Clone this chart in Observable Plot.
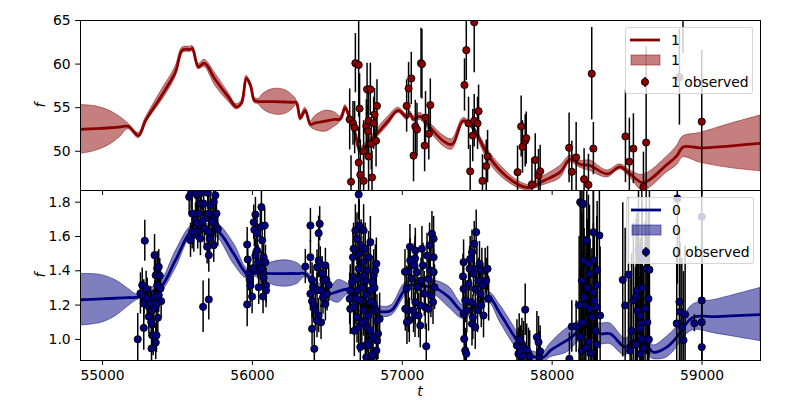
<!DOCTYPE html>
<html><head><meta charset="utf-8">
<script src="https://cdn.jsdelivr.net/npm/d3@7"></script>
<script src="https://cdn.jsdelivr.net/npm/@observablehq/plot@0.6"></script>
<style>
body{margin:0;background:#fff;}
#chart{position:relative;width:800px;height:400px;font-family:"DejaVu Sans",sans-serif;}
#chart > svg{position:absolute;left:0;top:0;}
.legend{position:absolute;background:rgba(255,255,255,0.8);border:1px solid rgba(204,204,204,0.8);border-radius:3px;box-sizing:border-box;}
.legend svg{position:absolute;left:0;top:0;overflow:visible;}
</style></head><body><div id="chart"></div>
<script>
// ---- axes ----
const xDomain = [54853, 59390];
const xTicks = [55000, 56000, 57000, 58000, 59000];
const topYDomain = [45.5, 65];
const topYTicks = [50, 55, 60, 65];
const botYDomain = [0.877, 1.868];
const botYTicks = [1.0, 1.2, 1.4, 1.6, 1.8];
const topLabels = ["1", "1", "1 observed"];
const botLabels = ["0", "0", "0 observed"];

// ---- top series ("1") model ----
const topModelT = [54853,54953,55053,55120,55173,55240,55287,55387,55487,55533,55587,55600,55640,55680,55753,55840,55893,55927,55960,55987,56013,56040,56073,56120,56167,56220,56267,56293,56320,56353,56387,56420,56487,56550,56587,56620,56653,56687,56720,56787,56840,56907,56973,57033,57053,57073,57120,57187,57273,57333,57407,57467,57567,57653,57773,57853,57940,58053,58120,58187,58253,58367,58453,58520,58607,58767,58833,58873,58987,59180,59390];
const topModelMean = [52.5,52.6,52.7,52.8,52.85,51.8,53.5,56.2,59.1,61.6,61.7,61.8,59.7,60.1,58.2,56.2,55.1,55.5,58.35,57.6,55.85,55.7,55.7,55.7,55.68,55.65,55.62,55.6,53.8,54.7,53.1,53.25,53.45,53.65,53.7,55.0,53.5,52.0,50.1,51.2,52.2,53.5,54.7,53.9,54.3,53.7,54.0,52.7,51.2,50.8,53.5,52.8,49.7,47.8,46.2,45.85,46.6,47.6,49.1,48.5,48.35,47.4,48.2,47.4,46.4,48.5,49.5,50.5,50.4,50.6,50.9];
const topModelHalf = [2.8,2.55,1.9,1.1,0.3,0.3,0.3,0.6,0.6,0.3,0.3,0.3,0.3,0.4,0.7,0.5,0.3,0.3,0.3,0.3,0.3,0.3,0.9,1.35,1.5,1.35,0.8,0.3,0.3,0.3,0.3,0.8,1.2,0.8,0.3,0.3,0.3,0.35,0.4,0.4,0.5,0.5,0.3,0.3,0.3,0.3,0.4,0.5,0.6,0.6,0.3,0.3,0.6,0.6,0.4,0.3,0.5,0.7,0.4,0.4,0.6,0.4,0.3,0.4,0.9,0.9,1.1,1.2,1.7,2.5,3.2];

// ---- top observed: [t, f, err] ----
const topObserved = [
[56649,53.65,3.5],[56658,46.5,3],[56671,53.2,2.5],[56682,52.7,3],[56687,60.1,3.4],[56709,59.9,6],[56715,54.9,4],[56709,48.7,4],[56720,47.3,4],[56742,50.0,3.5],[56742,46.6,3],[56765,57.1,3],[56787,57.1,3],[56760,52.9,3],[56771,52.3,3],[56775,53.5,4],[56775,49.4,4],[56793,50.85,3],[56798,47.0,3],[56809,53.2,3],[56815,54.2,3],[56825,51.2,3],[56831,55.2,3],
[57029,55.2,3],[57042,57.2,3],[57060,58.35,3],[57075,49.5,3],[57087,52.85,3],[57098,52.5,3],[57125,60.1,4],[57131,60.0,4],[57149,50.65,3],[57155,53.85,3],[57177,52.0,3],[57187,55.3,3],
[57415,57.6,3],[57427,61.6,3.5],[57442,53.2,3],[57453,47.7,3],[57470,51.8,3],[57480,64.8,5.8],[57480,53.5,3],[57502,53.2,3],[57509,54.6,3],[57535,46.6,3],[57560,48.3,3],[57569,49.4,3],
[57769,47.6,3],[57793,52.85,3.5],[57802,50.5,3],[57820,51.2,3],[57827,51.5,3],[57865,46.2,3],[57887,49.0,3],[57909,47.2,3],[57920,47.7,3],
[58113,50.4,4],[58131,47.65,3.5],[58160,49.3,4],[58213,46.8,3.5],[58242,46.15,3.5],[58264,58.9,5.3],[58275,50.3,3],
[58489,51.7,5.3],[58515,48.8,5],[58542,50.3,4],[58609,45.9,4],[58627,51.0,11],[58849,58.5,5.5],[58873,65.4,4.2],[58998,53.4,8.2]
];

// ---- bottom series ("0") model ----
const botModelT = [54853,54987,55087,55173,55233,55287,55387,55487,55598,55687,55765,55875,55965,56020,56080,56150,56233,56300,56353,56430,56509,56573,56642,56753,56862,56929,57007,57053,57130,57209,57309,57409,57490,57576,57653,57765,57831,57942,57987,58098,58231,58320,58387,58487,58542,58631,58676,58765,58831,58876,58942,59098,59390];
const botModelMean = [1.231,1.236,1.240,1.244,1.246,1.266,1.304,1.462,1.635,1.64,1.635,1.50,1.382,1.385,1.385,1.384,1.384,1.384,1.383,1.31,1.266,1.28,1.291,1.2,1.161,1.170,1.278,1.316,1.31,1.304,1.248,1.159,1.2,1.246,1.149,0.994,0.916,0.896,0.935,0.994,1.071,1.033,1.033,0.955,0.994,0.964,0.925,0.955,1.013,1.071,1.129,1.133,1.145];
const botModelHalf = [0.15,0.14,0.105,0.05,0.015,0.02,0.03,0.05,0.03,0.03,0.04,0.06,0.03,0.02,0.045,0.07,0.076,0.06,0.02,0.03,0.03,0.066,0.03,0.03,0.03,0.03,0.04,0.03,0.03,0.04,0.06,0.04,0.03,0.03,0.05,0.05,0.03,0.03,0.04,0.07,0.05,0.06,0.06,0.05,0.04,0.05,0.04,0.06,0.06,0.06,0.075,0.1,0.155];

// ---- bottom observed: [t, f, err] ----
const botObserved = [
[55235,1.001,0.15],[55282,1.575,0.12],[55265,1.316,0.1],[55253,1.268,0.12],[55275,1.248,0.1],[55275,1.209,0.1],[55275,1.067,0.13],[55291,1.297,0.1],[55298,1.238,0.12],[55309,1.19,0.1],[55327,1.17,0.1],[55320,1.209,0.1],[55331,1.087,0.1],[55331,1.024,0.1],[55347,1.491,0.12],[55355,1.374,0.1],[55365,1.413,0.1],[55375,1.423,0.1],[55382,1.371,0.1],[55365,1.316,0.1],[55387,1.297,0.1],[55349,1.248,0.1],[55375,1.258,0.1],[55391,1.223,0.1],[55360,1.204,0.1],[55342,1.18,0.1],[55338,1.024,0.12],[55360,1.024,0.1],[55355,0.982,0.1],[55327,0.947,0.1],[55369,1.126,0.1],[55309,1.132,0.1],[55325,1.1,0.1],
[55578,1.831,0.1],[55598,1.734,0.1],[55631,1.84,0.1],[55642,1.734,0.1],[55653,1.792,0.1],[55675,1.792,0.1],[55687,1.705,0.1],[55620,1.695,0.1],[55631,1.676,0.1],[55665,1.686,0.1],[55635,1.627,0.1],[55609,1.608,0.1],[55598,1.627,0.1],[55680,1.647,0.1],[55709,1.734,0.1],[55720,1.783,0.1],[55742,1.802,0.1],[55753,1.84,0.1],[55742,1.705,0.1],[55753,1.666,0.1],[55731,1.686,0.1],[55709,1.627,0.1],[55715,1.588,0.1],[55698,1.54,0.1],[55742,1.549,0.1],[55709,1.491,0.1],[55671,1.19,0.15],[55709,1.233,0.12],[55760,1.734,0.1],[55769,1.643,0.1],[55587,1.578,0.1],[55653,1.588,0.1],[55591,1.855,0.1],[55625,1.855,0.1],[55660,1.855,0.1],[55702,1.855,0.1],
[55965,1.553,0.1],[55969,1.466,0.1],[55965,1.204,0.13],[55975,1.383,0.1],[55982,1.347,0.1],[55987,1.314,0.1],[55998,1.25,0.1],[56009,1.683,0.1],[56013,1.639,0.1],[56020,1.728,0.1],[56031,1.616,0.1],[56031,1.518,0.1],[56038,1.45,0.1],[56042,1.402,0.1],[56042,1.304,0.1],[56053,1.654,0.1],[56060,1.771,0.12],[56065,1.577,0.1],[56069,1.392,0.1],[56075,1.479,0.1],[56075,1.359,0.1],[56082,1.664,0.1],[56087,1.45,0.1],[56091,1.314,0.1],[56091,1.285,0.1],[56020,1.489,0.1],[56005,1.415,0.1],[56058,1.412,0.1],[56071,1.25,0.1],
[56353,1.425,0.1],[56387,1.664,0.1],[56387,1.479,0.1],[56398,1.347,0.1],[56405,1.304,0.1],[56387,1.266,0.1],[56398,1.223,0.1],[56398,1.062,0.1],[56413,0.945,0.1],[56409,1.198,0.1],[56420,1.169,0.1],[56431,1.285,0.1],[56431,1.421,0.1],[56442,1.46,0.1],[56449,1.674,0.1],[56442,1.619,0.1],[56453,1.44,0.1],[56458,1.285,0.1],[56458,1.1,0.1],[56465,1.383,0.1],[56471,1.246,0.1],[56475,1.343,0.1],[56487,1.431,0.1],[56487,1.207,0.1],[56493,1.347,0.1],[56498,1.266,0.1],[56509,1.318,0.1],[56442,1.139,0.1],[56431,1.11,0.1],
[56709,1.845,0.15],[56675,1.528,0.15],[56671,1.479,0.15],[56687,1.635,0.15],[56698,1.587,0.15],[56713,1.664,0.15],[56725,1.548,0.15],[56742,1.635,0.15],[56753,1.528,0.15],[56787,1.567,0.15],[56775,1.479,0.15],[56765,1.402,0.15],[56753,1.343,0.15],[56709,1.412,0.15],[56675,1.363,0.15],[56665,1.334,0.15],[56653,1.285,0.15],[56649,1.237,0.15],[56653,1.178,0.15],[56675,1.188,0.15],[56687,1.237,0.15],[56702,1.285,0.15],[56720,1.227,0.15],[56731,1.304,0.15],[56742,1.373,0.15],[56742,1.169,0.15],[56753,1.110,0.15],[56765,1.071,0.15],[56775,1.139,0.15],[56787,1.285,0.15],[56798,1.334,0.15],[56809,1.373,0.15],[56820,1.402,0.15],[56827,1.441,0.15],[56809,1.207,0.15],[56820,1.169,0.15],[56831,1.110,0.15],[56838,1.033,0.15],[56831,0.994,0.15],[56827,0.935,0.15],[56805,1.013,0.15],[56787,1.052,0.15],[56775,0.984,0.15],[56753,0.964,0.15],[56720,0.955,0.15],[56709,1.071,0.15],[56698,1.129,0.15],[56760,0.896,0.15],[56798,0.896,0.15],[56849,1.12,0.15],[56800,0.908,0.15],[56773,0.966,0.15],[56715,1.5,0.15],[56740,1.45,0.15],[56790,1.22,0.15],[56760,1.26,0.15],[56730,1.1,0.15],[56815,1.3,0.15],[56700,1.35,0.15],[56680,1.05,0.15],
[57051,1.54,0.13],[57040,1.398,0.13],[57018,1.394,0.13],[57029,1.297,0.13],[57062,1.355,0.13],[57085,1.472,0.13],[57040,1.17,0.13],[57047,1.112,0.13],[57085,1.141,0.13],[57053,1.46,0.13],[57075,1.169,0.13],[57080,1.431,0.13],[57087,1.518,0.13],[57098,1.392,0.13],[57102,1.304,0.13],[57120,1.081,0.13],[57125,1.343,0.13],[57131,1.528,0.13],[57138,1.431,0.13],[57147,1.266,0.13],[57153,1.188,0.13],[57160,0.96,0.13],[57165,1.489,0.13],[57175,1.353,0.13],[57182,1.548,0.13],[57187,1.402,0.13],[57191,1.256,0.13],[57198,1.616,0.13],[57209,1.587,0.13],[57209,1.479,0.13],[57209,1.392,0.13],[57215,1.304,0.13],[57205,1.217,0.13],[57120,1.198,0.13],[57087,1.217,0.13],[57109,1.139,0.13],[57175,1.178,0.13],[57020,1.178,0.13],[57031,1.1,0.13],
[57409,1.45,0.13],[57405,1.367,0.13],[57409,1.295,0.13],[57420,1.227,0.13],[57409,1.149,0.13],[57413,1.003,0.13],[57420,0.935,0.13],[57427,0.916,0.13],[57431,1.169,0.13],[57442,1.324,0.13],[57449,1.412,0.13],[57453,1.47,0.13],[57458,1.217,0.13],[57465,1.091,0.13],[57471,1.129,0.13],[57475,1.383,0.13],[57480,1.557,0.13],[57487,1.295,0.13],[57493,1.625,0.13],[57498,1.412,0.13],[57502,1.169,0.13],[57509,1.343,0.13],[57515,1.441,0.13],[57520,1.266,0.13],[57527,1.198,0.13],[57531,1.402,0.13],[57538,1.314,0.13],[57542,1.139,0.13],[57553,1.402,0.13],[57560,1.343,0.13],[57569,1.412,0.13],[57576,1.237,0.13],[57487,1.071,0.13],[57465,1.508,0.13],
[57765,0.964,0.15],[57775,0.916,0.15],[57798,0.974,0.15],[57809,0.955,0.15],[57820,1.173,0.15],[57842,0.916,0.15],[57898,1.013,0.15],[57909,0.984,0.15],[57915,0.896,0.15],[57790,0.93,0.15],[57830,0.94,0.15],[57850,0.90,0.15],[57805,0.90,0.15],[57780,1.0,0.15],[57920,0.93,0.15],
[58115,0.887,0.15],[58131,1.075,0.15],[58160,1.075,0.15],[58187,1.8,0.45],[58198,1.79,0.45],[58209,1.46,0.4],[58198,1.343,0.4],[58213,1.246,0.4],[58220,1.198,0.4],[58187,1.013,0.4],[58198,0.935,0.4],[58231,1.577,0.45],[58242,1.441,0.4],[58249,1.383,0.4],[58253,1.178,0.4],[58265,1.129,0.4],[58275,1.625,0.5],[58275,1.275,0.4],[58282,1.227,0.4],[58298,1.188,0.4],[58315,1.606,0.45],[58320,1.139,0.4],[58242,0.984,0.4],[58205,1.1,0.4],[58225,0.95,0.4],[58260,0.92,0.4],[58290,1.05,0.4],[58300,0.97,0.4],[58180,1.2,0.4],[58235,1.3,0.4],[58209,1.79,0.45],[58275,1.462,0.4],[58300,1.404,0.4],[58298,1.316,0.4],
[58471,1.347,0.45],[58509,1.378,0.45],[58487,1.198,0.45],[58542,1.227,0.45],[58565,1.285,0.45],[58569,1.169,0.45],[58587,1.139,0.45],[58591,1.091,0.45],[58598,1.003,0.45],[58627,1.412,0.5],[58642,1.237,0.5],[58649,1.406,0.5],[58587,0.916,0.45],[58520,0.935,0.45],[58576,1.52,0.5],[58598,1.468,0.5],[58587,1.064,0.45],[58530,1.05,0.45],[58555,0.97,0.45],[58610,0.95,0.45],[58635,1.1,0.5],[58600,1.3,0.5],[58645,1.0,0.5],[58620,1.18,0.5],[58560,1.25,0.45],
[58835,1.822,0.5],[58998,1.715,0.5],[58849,1.219,0.4],[58831,1.093,0.4],[58853,1.161,0.4],[58865,1.073,0.4],[58876,0.995,0.4],[58887,1.145,0.4],[58949,1.094,0.05],[58998,1.227,0.5],[58998,1.1,0.5],[58998,0.955,0.5]
];

// ---- build tables ----
const mkModel = (T, M, H) => T.map((t, i) => ({t, mean: M[i], lo: M[i] - H[i], hi: M[i] + H[i]}));
const mkObs = rows => rows.map(([t, f, e]) => ({t, f, lo: f - e, hi: f + e}));
const topModel = mkModel(topModelT, topModelMean, topModelHalf);
const botModel = mkModel(botModelT, botModelMean, botModelHalf);
const topObs = mkObs(topObserved);
const botObs = mkObs(botObserved);

const RED = "#8b0000", NAVY = "#000080";
const style = {fontFamily: "DejaVu Sans, sans-serif", fontSize: "13.9px", color: "black", background: "transparent", overflow: "visible"};

function seriesMarks(model, obs, color) {
  return [
    Plot.areaY(model, {x: "t", y1: "lo", y2: "hi", fill: color, fillOpacity: 0.5, stroke: color, strokeOpacity: 0.5, strokeWidth: 1, curve: "catmull-rom", clip: true}),
    Plot.line(model, {x: "t", y: "mean", stroke: color, strokeWidth: 2.8, curve: "catmull-rom", clip: true}),
    Plot.ruleX(obs, {x: "t", y1: "lo", y2: "hi", stroke: "black", strokeWidth: 1.5, clip: true}),
    Plot.dot(obs, {x: "t", y: "f", r: 3.6, fill: color, stroke: "black", strokeWidth: 0.9, clip: true})
  ];
}

const topPlot = Plot.plot({
  width: 800, height: 400, marginTop: 20, marginBottom: 210, marginLeft: 80, marginRight: 40,
  style,
  x: {domain: xDomain, label: null},
  y: {domain: topYDomain, label: null},
  marks: [
    ...seriesMarks(topModel, topObs, RED),
    Plot.axisX({ticks: xTicks, tickSize: 4.9, tickFormat: () => "", label: null}),
    Plot.axisY({ticks: topYTicks, tickSize: 4.9, tickPadding: 4.9, label: null}),
    Plot.frame({stroke: "black", strokeWidth: 1})
  ]
});

const botPlot = Plot.plot({
  width: 800, height: 400, marginTop: 190, marginBottom: 40, marginLeft: 80, marginRight: 40,
  style,
  x: {domain: xDomain, label: null},
  y: {domain: botYDomain, label: null},
  marks: [
    ...seriesMarks(botModel, botObs, NAVY),
    Plot.axisX({ticks: xTicks, tickSize: 4.9, tickPadding: 4.9, tickFormat: d => String(d), label: null}),
    Plot.axisY({ticks: botYTicks, tickSize: 4.9, tickPadding: 4.9, tickFormat: d3.format(".1f"), label: null}),
    Plot.frame({stroke: "black", strokeWidth: 1})
  ]
});

const chart = document.getElementById("chart");
chart.appendChild(topPlot);
chart.appendChild(botPlot);

// axis titles
function addText(svg, x, y, rot, txt) {
  d3.select(svg).append("text")
    .attr("transform", `translate(${x},${y}) rotate(${rot})`)
    .attr("text-anchor", "middle")
    .style("font-family", "DejaVu Sans, sans-serif").style("font-style", "italic").style("font-size", "13.9px")
    .attr("fill", "black").text(txt);
}
addText(topPlot, 45, 105, -90, "f");
addText(botPlot, 45, 275, -90, "f");
addText(botPlot, 420, 396, 0, "t");

// legends
function legend(left, top, color, labels) {
  const div = document.createElement("div");
  div.className = "legend";
  Object.assign(div.style, {left: left + "px", top: top + "px", width: "128px", height: "67px"});
  const svg = d3.create("svg").attr("width", 128).attr("height", 67);
  svg.append("line").attr("x1", 4).attr("x2", 34).attr("y1", 12).attr("y2", 12).attr("stroke", color).attr("stroke-width", 2.8);
  svg.append("rect").attr("x", 5).attr("y", 27).attr("width", 29).attr("height", 10)
    .attr("fill", color).attr("fill-opacity", 0.5).attr("stroke", color).attr("stroke-opacity", 0.5);
  svg.append("line").attr("x1", 19).attr("x2", 19).attr("y1", 49).attr("y2", 59).attr("stroke", "black").attr("stroke-width", 1.5);
  svg.append("circle").attr("cx", 19).attr("cy", 54).attr("r", 3.6).attr("fill", color).attr("stroke", "black").attr("stroke-width", 0.9);
  [17, 37, 59].forEach((y, i) => {
    svg.append("text").attr("x", 45).attr("y", y).attr("fill", "black")
      .style("font-family", "DejaVu Sans, sans-serif").style("font-size", "13.9px").text(labels[i]);
  });
  div.appendChild(svg.node());
  chart.appendChild(div);
}
legend(625, 27, RED, topLabels);
legend(626, 197, NAVY, botLabels);
</script></body></html>
